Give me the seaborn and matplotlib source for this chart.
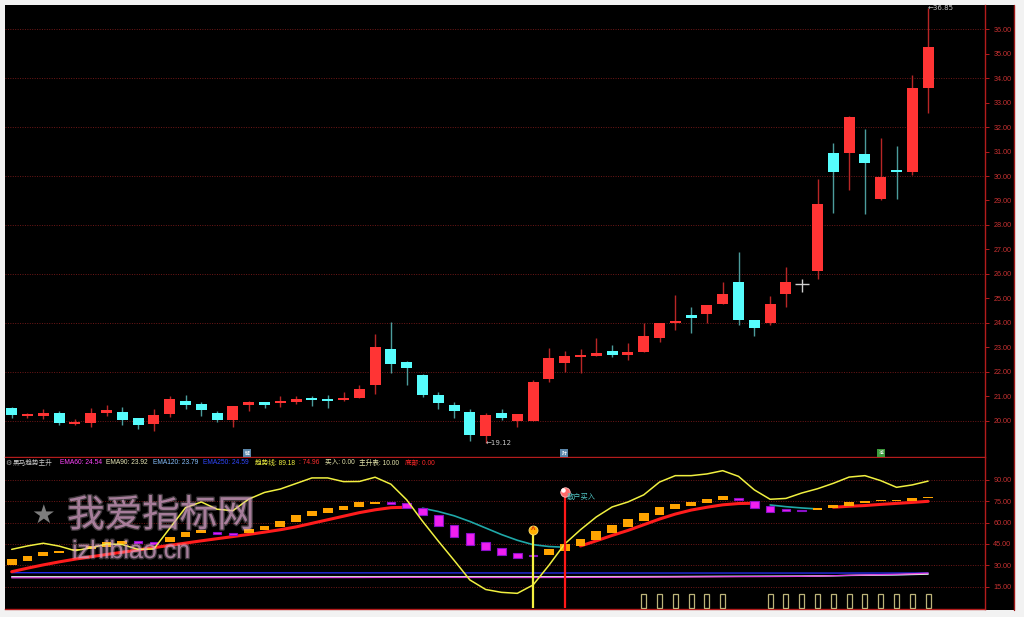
import numpy as np
import pandas as pd
import matplotlib
matplotlib.use('Agg')
import matplotlib.pyplot as plt
import matplotlib.patheffects as pe
from matplotlib.patches import Rectangle
from matplotlib.lines import Line2D
import seaborn as sns

# ---------------- data ----------------
opens = [20.52,20.20,20.22,20.34,19.87,19.93,20.33,20.38,20.13,19.88,
         20.30,20.82,20.69,20.31,20.04,20.67,20.76,20.73,20.79,20.91,
         20.89,20.85,20.93,21.47,22.93,22.40,21.89,21.06,20.64,20.36,
         19.40,20.31,20.01,20.01,21.70,22.35,22.63,22.67,22.86,22.69,
         22.82,23.40,24.01,24.33,24.38,24.78,25.69,24.12,24.00,25.17,
         25.58,26.13,30.95,30.95,30.90,29.05,30.26,30.15,33.59]
closes = [20.24,20.24,20.31,19.90,19.90,20.34,20.45,20.03,19.82,20.24,
          20.89,20.67,20.45,20.03,20.60,20.78,20.67,20.82,20.91,20.86,
          20.80,20.89,21.31,23.03,22.33,22.15,21.06,20.75,20.41,19.43,
          20.24,20.11,20.27,21.60,22.58,22.65,22.65,22.76,22.69,22.82,
          23.48,23.99,24.07,24.19,24.73,25.18,24.12,23.80,24.78,25.69,
          25.58,28.84,30.15,32.42,30.54,29.95,30.18,33.59,35.27]
highs = [20.58,20.34,20.50,20.41,20.09,20.53,20.64,20.56,20.14,20.48,
         21.02,21.06,20.78,20.41,20.61,20.80,20.78,21.02,21.03,21.02,
         21.06,21.20,21.47,23.55,24.05,22.43,21.92,21.20,20.76,20.48,
         20.31,20.48,20.28,21.67,22.99,22.86,22.93,23.40,23.10,23.17,
         23.99,24.00,25.14,24.64,24.74,25.69,26.91,24.13,25.11,26.30,
         25.78,29.88,31.33,32.43,31.91,31.54,31.22,34.12,36.85]
lows = [20.11,20.14,20.07,19.82,19.82,19.77,20.22,19.84,19.66,19.60,
        20.16,20.50,20.20,19.97,19.77,20.41,20.54,20.58,20.71,20.62,
        20.54,20.82,20.92,21.09,21.95,21.47,20.96,20.50,20.13,19.20,
        19.12,20.03,19.77,20.00,21.60,22.01,21.97,22.66,22.62,22.49,
        22.81,23.24,23.71,23.60,24.01,24.77,23.92,23.47,23.92,24.64,
        25.28,25.80,28.48,29.43,28.44,29.04,29.05,30.04,32.57]

ema60 = [21.20,21.21,21.22,21.22,21.22,21.23,21.24,21.24,21.24,21.24,
         21.26,21.27,21.28,21.28,21.29,21.31,21.32,21.33,21.35,21.36,
         21.38,21.40,21.42,21.48,21.51,21.53,21.52,21.50,21.48,21.44,
         21.42,21.41,21.40,21.41,21.43,21.46,21.49,21.52,21.56,21.60,
         21.65,21.71,21.76,21.82,21.88,21.95,22.01,22.04,22.09,22.16,
         22.24,22.42,22.70,22.99,23.24,23.48,23.72,24.08,24.54]
ema90 = [21.80,21.80,21.80,21.79,21.79,21.79,21.79,21.79,21.78,21.78,
         21.79,21.79,21.79,21.79,21.79,21.80,21.80,21.81,21.81,21.82,
         21.83,21.84,21.85,21.88,21.90,21.92,21.91,21.90,21.88,21.86,
         21.84,21.84,21.83,21.84,21.86,21.88,21.90,21.92,21.94,21.96,
         21.99,22.03,22.06,22.10,22.14,22.18,22.21,22.24,22.27,22.32,
         22.36,22.50,22.69,22.90,23.07,23.24,23.40,23.64,23.92]
ema120 = [22.00,22.00,22.00,21.99,21.99,21.99,21.99,21.99,21.98,21.98,
          21.99,21.99,21.99,21.99,21.99,21.99,22.00,22.00,22.00,22.01,
          22.01,22.02,22.03,22.05,22.07,22.08,22.07,22.06,22.05,22.03,
          22.02,22.01,22.01,22.02,22.03,22.04,22.06,22.07,22.09,22.11,
          22.13,22.16,22.18,22.21,22.24,22.27,22.29,22.31,22.34,22.37,
          22.40,22.51,22.66,22.82,22.96,23.09,23.22,23.46,23.79]
ema250 = [24.80,24.80,24.79,24.79,24.78,24.78,24.77,24.77,24.76,24.76,
          24.75,24.75,24.74,24.74,24.73,24.73,24.72,24.72,24.71,24.71,
          24.70,24.70,24.69,24.69,24.69,24.68,24.68,24.67,24.67,24.66,
          24.65,24.64,24.63,24.62,24.62,24.61,24.61,24.60,24.60,24.59,
          24.59,24.58,24.58,24.58,24.57,24.57,24.57,24.57,24.56,24.56,
          24.56,24.56,24.56,24.57,24.57,24.57,24.58,24.58,24.59]

trend_line = [41.2,43.6,45.5,43.5,40.3,42.2,45.0,44.6,41.2,41.5,
              56.0,70.5,74.5,69.4,68.4,76.5,81.2,83.6,87.5,91.4,
              91.4,88.8,88.9,91.9,87.0,76.0,61.0,47.0,33.5,19.7,
              13.0,11.0,10.3,16.2,30.0,45.0,55.0,64.0,71.0,74.5,
              79.5,88.5,93.0,93.0,94.2,96.5,92.5,83.0,76.4,77.0,
              80.8,83.8,87.6,92.0,93.0,89.5,84.8,86.5,89.18]

main_line = [25.5,28.0,30.3,32.4,34.3,36.0,37.6,39.2,40.8,42.4,
             44.0,45.6,47.2,48.7,50.2,51.7,53.3,55.0,57.0,59.5,
             62.0,64.5,67.0,69.0,70.5,70.8,70.1,67.8,64.8,60.8,
             56.2,51.6,47.6,44.5,43.2,42.7,43.6,47.2,51.0,54.5,
             58.5,62.5,66.0,68.8,70.8,72.5,73.4,73.6,72.4,71.2,
             70.3,69.6,70.8,71.5,72.0,72.8,73.5,74.2,74.96]
main_up = [1,1,1,1,1,1,1,1,1,1, 1,1,1,1,1,1,1,1,1,1, 1,1,1,1,1,1,0,0,0,0,
           0,0,0,0,0,0,1,1,1,1, 1,1,1,1,1,1,1,1,0,0, 0,0,1,1,1,1,1,1,1]

bar_open = [30.2,33.2,36.5,38.4,40.6,41.6,43.1,45.0,47.1,46.2,
            46.6,49.7,52.5,53.6,52.5,52.5,54.8,57.1,60.7,64.7,
            67.0,68.9,71.2,73.1,74.1,73.6,70.1,65.4,58.3,52.5,
            46.6,42.0,38.9,36.9,37.3,40.0,43.6,47.8,52.5,57.1,
            61.4,65.4,69.4,71.7,73.6,75.9,77.1,75.4,71.7,69.3,
            68.8,69.0,70.5,71.9,74.0,74.9,75.1,75.4,77.1]
bar_close = [34.2,36.5,39.6,40.1,41.4,43.4,46.6,47.3,45.9,45.0,
             50.1,53.6,54.8,52.0,51.1,55.3,57.6,61.4,65.4,68.2,
             70.1,71.9,74.3,74.7,73.4,70.5,65.4,57.6,50.1,44.3,
             40.8,37.3,34.9,36.2,41.3,45.0,48.5,54.1,58.3,62.6,
             67.0,70.8,72.9,74.3,76.4,78.7,75.9,70.1,67.7,68.5,
             68.0,69.8,72.4,74.7,75.4,75.6,75.8,77.1,78.3]

rise_table = [0,0,0,0,0,0,0,0,0,0, 0,0,0,0,0,0,0,0,0,0, 0,0,0,0,0,0,0,0,0,0,
              0,0,0,0,0,0,0,0,0,0, 10,10,10,10,10,10,0,0,10,10,
              10,10,10,10,10,10,10,10,10]
buy_signal = {'idx': 33, 'value': 54.8}
retail_signal = {'idx': 35, 'value': 81.7, 'label': '散户买入'}
price_ticks = list(range(20, 37))
ind_ticks = [15, 30, 45, 60, 75, 90]

# ---------------- style ----------------
sns.set_style('dark')
plt.rcParams['font.family'] = ['Liberation Sans', 'Noto Sans CJK SC', 'DejaVu Sans']
plt.rcParams['axes.unicode_minus'] = False

W, H = 1024, 617
fig = plt.figure(figsize=(W / 100, H / 100), dpi=100)
fig.patch.set_facecolor('#f2f2f2')

def fx(px):
    return px / W

def fy(py):
    return 1 - py / H

fig.add_artist(Rectangle((fx(5), fy(610)), (1015 - 5) / W, (610 - 5) / H,
                         transform=fig.transFigure, facecolor='black',
                         edgecolor='none', zorder=-10))

ax1 = fig.add_axes([fx(5), fy(457), 980 / W, 452 / H])
ax2 = fig.add_axes([fx(5), fy(609), 980 / W, 151 / H])

n = len(closes)
x = np.arange(n)
o = np.array(opens); c = np.array(closes); h = np.array(highs); l = np.array(lows)

GRID = '#701818'
AXRED = '#b41c1c'
for ax in (ax1, ax2):
    ax.set_facecolor('black')
    ax.grid(False)
    ax.set_xlim(-0.424, 61.6)
    for s in ('left', 'top'):
        ax.spines[s].set_visible(False)
    for s in ('right', 'bottom'):
        ax.spines[s].set_color(AXRED)
        ax.spines[s].set_linewidth(1.0)
    ax.yaxis.tick_right()
    ax.tick_params(axis='y', colors=AXRED, labelcolor='#c83232', labelsize=5.2,
                   length=3, width=0.7, pad=3)

# ---------------- top panel: candles ----------------
ax1.set_ylim(18.53, 36.98)
for v in price_ticks:
    if v % 2 == 0:
        ax1.axhline(v, color=GRID, lw=0.7, ls=(0, (1, 1.5)), zorder=0)
ax1.set_yticks(price_ticks)
ax1.set_yticklabels([f'{v:.2f}' for v in price_ticks])
ax1.set_xticks([])

up = c > o
dn = c < o
fl = c == o
ax1.vlines(x[up], l[up], h[up], color='#b82626', lw=1.0, zorder=2)
ax1.vlines(x[dn], l[dn], h[dn], color='#4c9c9c', lw=1.0, zorder=2)
ax1.bar(x[up], np.maximum(c - o, 0.07)[up], bottom=o[up], width=0.7,
        color='#ff3434', lw=0, zorder=3)
ax1.bar(x[dn], np.maximum(o - c, 0.07)[dn], bottom=c[dn], width=0.7,
        color='#56fcfc', lw=0, zorder=3)
ax1.vlines(x[fl], l[fl], h[fl], color='#d0d0d0', lw=1.0, zorder=3)
ax1.hlines(c[fl], x[fl] - 0.45, x[fl] + 0.45, color='#d0d0d0', lw=1.0, zorder=3)

imax = int(np.argmax(h)); imin = int(np.argmin(l))
ax1.text(imax, h[imax], f'←{h[imax]:.2f}', color='#c8c8c8', fontsize=5.0,
         ha='left', va='center', family=['DejaVu Sans'])
ax1.text(imin, l[imin], f'←{l[imin]:.2f}', color='#c8c8c8', fontsize=5.0,
         ha='left', va='center', family=['DejaVu Sans'])

# small event icons at the bottom of the price panel
for px_, col, ch in [(247, '#5a86aa', '解'), (564, '#5a86aa', '财'), (881, '#3c9a3c', '减')]:
    fig.add_artist(Rectangle((fx(px_ - 4), fy(457)), 8 / W, 8 / H, transform=fig.transFigure,
                             facecolor=col, edgecolor='none', zorder=5))
    fig.text(fx(px_), fy(453), ch, color='white', fontsize=3.5, ha='center', va='center',
             family=['Noto Sans CJK SC'], zorder=6)

# ---------------- bottom panel: indicator ----------------
ax2.set_ylim(-0.7, 105.4)
for v in ind_ticks:
    ax2.axhline(v, color=GRID, lw=0.7, ls=(0, (1, 1.5)), zorder=0)
ax2.set_yticks(ind_ticks)
ax2.set_yticklabels([f'{v:.2f}' for v in ind_ticks])
ax2.set_xticks(x)
ax2.tick_params(axis='x', direction='in', length=2, color=AXRED, labelbottom=False)

# EMA lines of price drawn in the indicator window
for arr, col in [(ema250, '#2630ff'), (ema120, '#90c0ff'), (ema90, '#eeeec8'), (ema60, '#e040e0')]:
    sns.lineplot(x=x, y=arr, color=col, lw=0.9, ax=ax2, zorder=2)

# main trend line: red when rising, teal when falling
df = pd.DataFrame({'x': x, 'v': main_line, 'up': main_up})
df['seg'] = (df['up'] != df['up'].shift()).cumsum()
for _, g in df.groupby('seg'):
    if g['up'].iloc[0] == 1:
        sns.lineplot(data=g, x='x', y='v', color='#ff1c1c', lw=2.2, ax=ax2, zorder=3)
    else:
        sns.lineplot(data=g, x='x', y='v', color='#1fa8a8', lw=1.2, ax=ax2, zorder=3)

# orange / magenta step bars
bo = np.array(bar_open); bc = np.array(bar_close)
rise = bc >= bo
ax2.bar(x[rise], np.maximum(bc - bo, 1.0)[rise], bottom=np.minimum(bo, bc)[rise],
        width=0.62, color='#ffa400', lw=0, zorder=4)
ax2.bar(x[~rise], np.maximum(bo - bc, 1.0)[~rise], bottom=np.minimum(bo, bc)[~rise],
        width=0.55, color='#f020f0', edgecolor='#8a10c8', lw=0.8, zorder=4)

# trend (yellow) line
sns.lineplot(x=x, y=trend_line, color='#f0f040', lw=1.1, ax=ax2, zorder=5)

# hollow "主升表" bars
rt = np.array(rise_table)
mask = rt > 0
ax2.bar(x[mask], rt[mask], width=0.32, fill=False, edgecolor='#bcb47a', lw=0.9, zorder=3)

# signals
bi, bv = buy_signal['idx'], buy_signal['value']
ax2.vlines(bi, 0, bv, color='#f4f040', lw=1.6, zorder=6)
sns.scatterplot(x=[bi], y=[bv], s=42, color='#ffb000', edgecolor='#ffe070', lw=0.6, ax=ax2, zorder=7)
ax2.text(bi, bv - 0.5, '^', color='#d01818', fontsize=5.5, ha='center', va='center',
         fontweight='bold', zorder=8)
ri, rv = retail_signal['idx'], retail_signal['value']
ax2.vlines(ri, 0, rv, color='#ff1818', lw=1.6, zorder=6)
sns.scatterplot(x=[ri], y=[rv], s=46, color='#ff6a6a', edgecolor='#ffc0c0', lw=0.6, ax=ax2, zorder=7)
ax2.scatter([ri - 0.08], [rv + 1.0], s=5, color='white', zorder=8)
ax2.text(ri + 0.1, rv - 3.5, retail_signal['label'], color='#50c4c4', fontsize=5.2,
         ha='left', va='center', family=['Noto Sans CJK SC'], zorder=8)

# legend / title line
fig.text(fx(8), fy(463), '⚙', color='#a0a0a0', fontsize=5, ha='center', va='center',
         family=['DejaVu Sans'])
segments = [
    ('黑马趋势主升', 13, '#c8c8c8'),
    (f'EMA60: {ema60[-1]:.2f}', 60, '#ff44ff'),
    (f'EMA90: {ema90[-1]:.2f}', 106, '#e8e8b8'),
    (f'EMA120: {ema120[-1]:.2f}', 153, '#88c0ff'),
    (f'EMA250: {ema250[-1]:.2f}', 203, '#3048ff'),
    (f'趋势线: {trend_line[-1]:.2f}', 255, '#f0f040'),
    (f': {main_line[-1]:.2f}', 299, '#ff3030'),
    ('买入: 0.00', 325, '#e0e0a8'),
    (f'主升表: {rise_table[-1]:.2f}', 359, '#e0e0a8'),
    ('底部: 0.00', 405, '#ff2828'),
]
for txt, px_, col in segments:
    fig.text(fx(px_), fy(463), txt, color=col, fontsize=4.8, ha='left', va='center')

# outer frame line on the right
fig.add_artist(Line2D([fx(1014), fx(1014)], [fy(5), fy(610)], transform=fig.transFigure,
                      color='#a01818', lw=1.0))

# watermark
glow = [pe.withStroke(linewidth=2.0, foreground='#f4d8ea', alpha=0.25)]
fig.text(fx(43), fy(516), '★', color='#8c8c8c', alpha=0.9, fontsize=19, ha='center', va='center',
         family=['DejaVu Sans'], zorder=20)
fig.text(fx(161), fy(516), '我爱指标网', color='#d49cc4', alpha=0.6, fontsize=27,
         ha='center', va='center', family=['Noto Sans CJK SC'], zorder=20, path_effects=glow)
fig.text(fx(131), fy(551), 'izhibiao.cn', color='#d49cc4', alpha=0.6, fontsize=18,
         ha='center', va='center', zorder=20, path_effects=glow)

ax1.set_xlabel(''); ax1.set_ylabel('')
ax2.set_xlabel(''); ax2.set_ylabel('')

fig.savefig('out.png', dpi=100, facecolor=fig.get_facecolor())
